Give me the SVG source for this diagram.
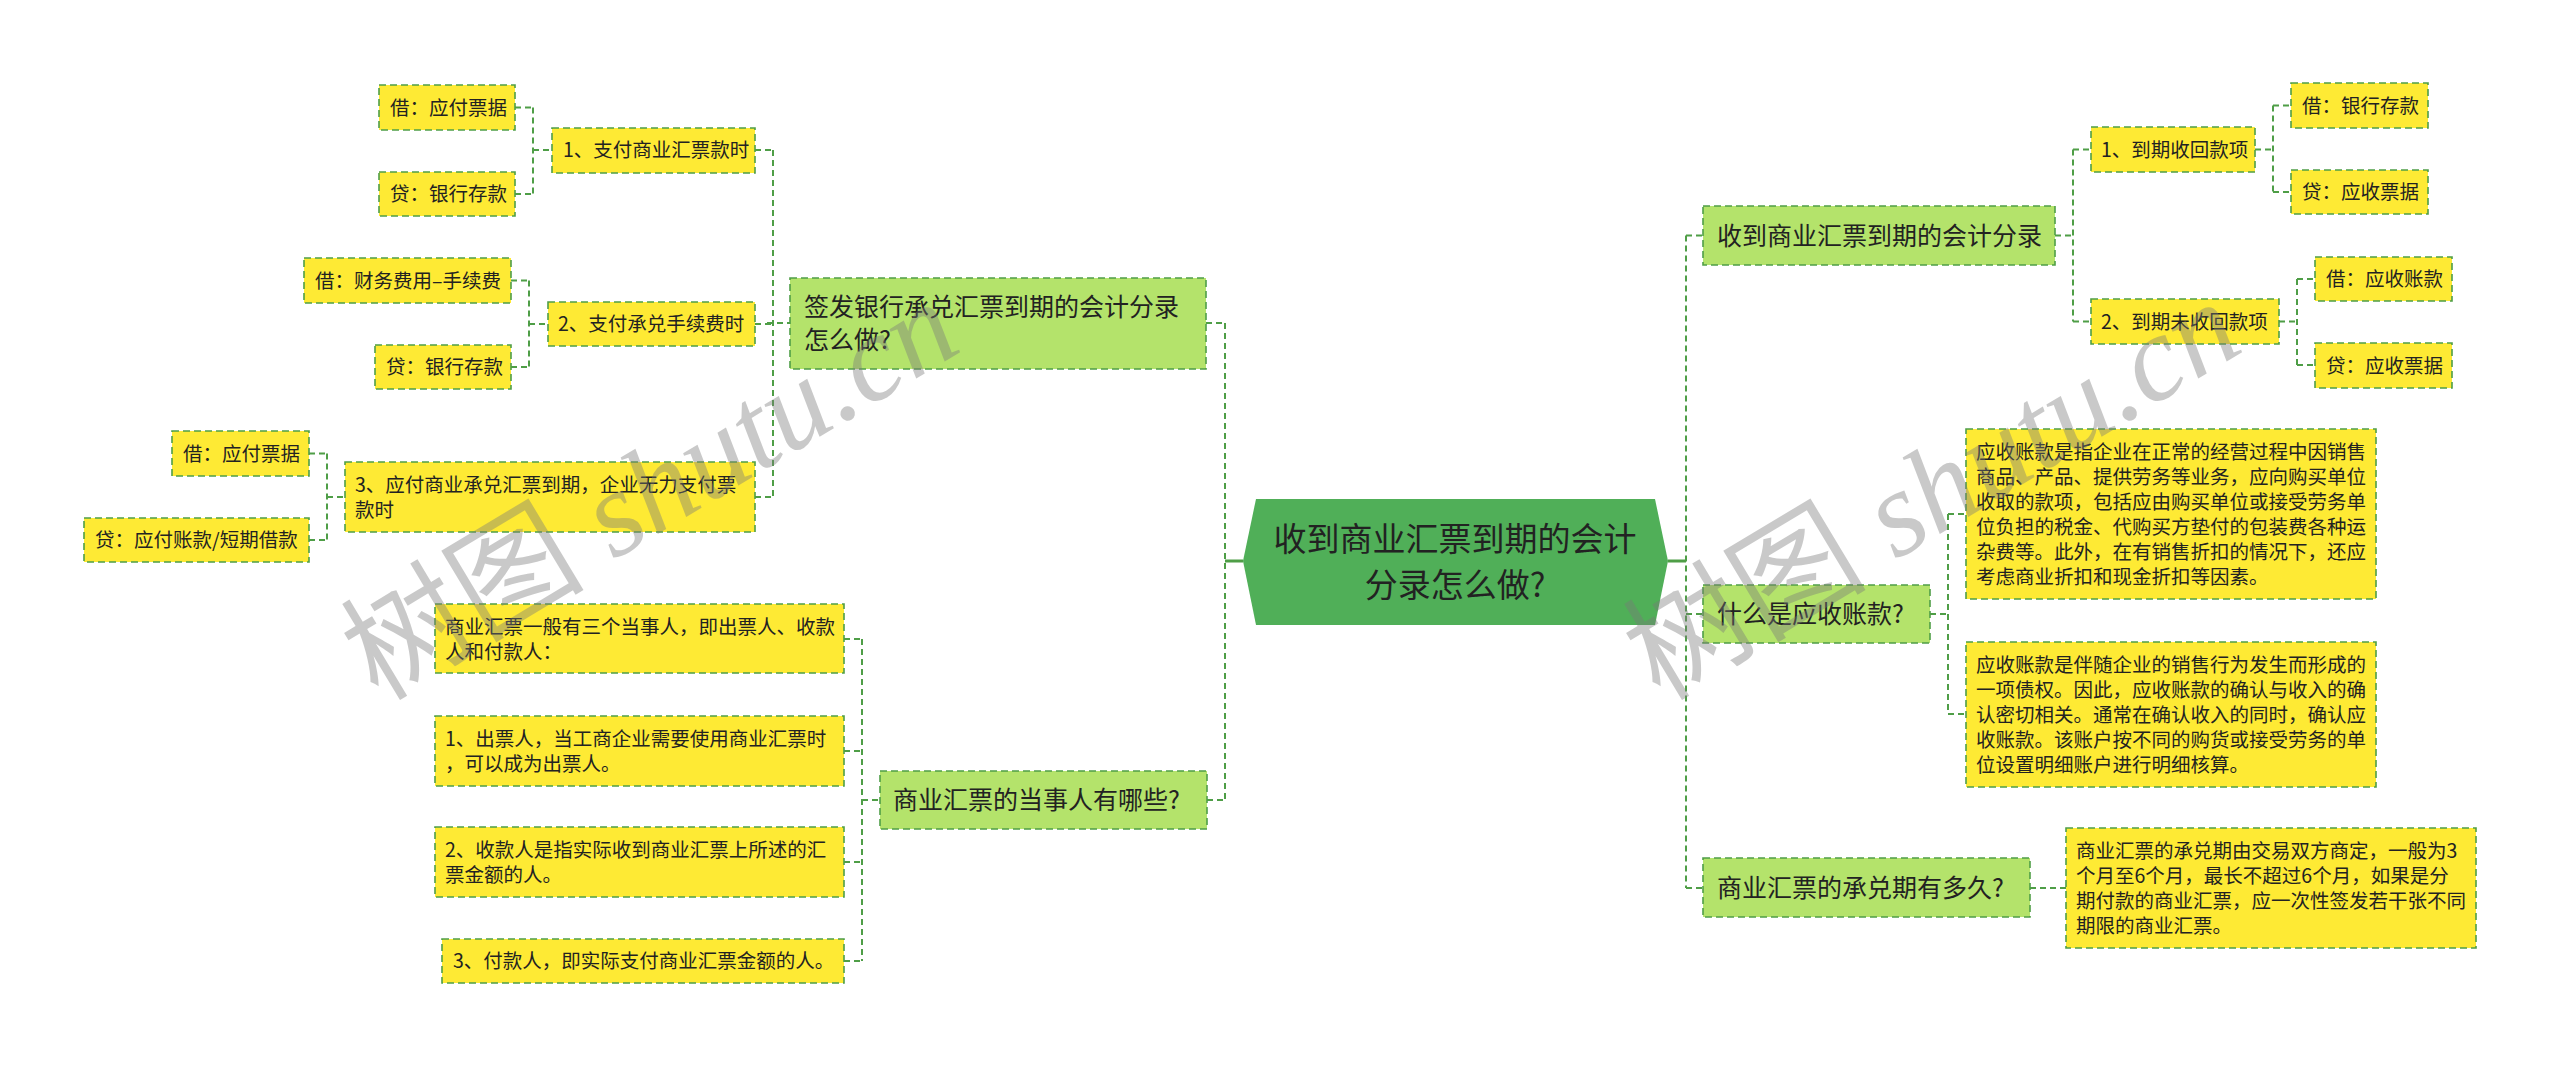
<svg xmlns="http://www.w3.org/2000/svg" width="2560" height="1067" viewBox="0 0 2560 1067">
<defs>
<style>
.bg{fill:#ffffff}
.leaf{fill:#feea34;stroke:#4f9e47;stroke-width:1.6;stroke-dasharray:7 4}
.sub{fill:#b4e36b;stroke:#4f9e47;stroke-width:1.6;stroke-dasharray:7 4}
.root{fill:#50af58}
.t{font-family:"Noto Sans CJK SC","Noto Sans",sans-serif;fill:#222}
.s19{font-size:19.5px}
.s25{font-size:25px}
.s33{font-size:33px}
.c{fill:none;stroke:#4f9e47;stroke-width:2;stroke-dasharray:6 4}
.cs{fill:none;stroke:#4f9e47;stroke-width:3}
.wm{fill:#7a7a7a;opacity:0.4;font-size:122px}
</style>
</defs>
<rect class="bg" x="0" y="0" width="2560" height="1067"/>

<g id="connectors">
  <path class="cs" d="M1225 561 H1243 M1668 561 H1686"/>
  <path class="c" d="M1225 323 V800 M1206 323 H1225 M1207 800 H1225"/>
  <path class="c" d="M773 150 V497 M755 150 H773 M755 324 H773 M755 497 H773 M767 323 H790"/>
  <path class="c" d="M533 107.5 V194 M515 107.5 H533 M515 194 H533 M533 150 H552"/>
  <path class="c" d="M529 280.5 V367 M511 280.5 H529 M511 367 H529 M529 324 H548"/>
  <path class="c" d="M327 453.5 V540 M309 453.5 H327 M309 540 H327 M327 497 H345"/>
  <path class="c" d="M862 639 V961 M844 639 H862 M844 751 H862 M844 862 H862 M844 961 H862 M862 800 H880"/>
  <path class="c" d="M1686 235.5 V888 M1686 235.5 H1703 M1686 614 H1703 M1686 888 H1703"/>
  <path class="c" d="M2073 149.5 V321.5 M2055 235.5 H2073 M2073 149.5 H2091 M2073 321.5 H2091"/>
  <path class="c" d="M2273 105.5 V192 M2255 149.5 H2273 M2273 105.5 H2291 M2273 192 H2291"/>
  <path class="c" d="M2297 279 V365 M2279 321.5 H2297 M2297 279 H2315 M2297 365 H2315"/>
  <path class="c" d="M1948 514 V714 M1930 614 H1948 M1948 514 H1966 M1948 714 H1966"/>
  <path class="c" d="M2030 888 H2066"/>
</g>

<g id="root">
  <polygon class="root" points="1243,561 1256,499 1655,499 1668,561 1655,625 1256,625"/>
  <text class="t s33" x="1455" y="551" text-anchor="middle">收到商业汇票到期的会计</text>
  <text class="t s33" x="1455" y="597" text-anchor="middle">分录怎么做?</text>
</g>

<g id="c1">
  <rect class="sub" x="790" y="278" width="416" height="91"/>
  <text class="t s25" x="804" y="316">签发银行承兑汇票到期的会计分录</text>
  <text class="t s25" x="804" y="349">怎么做?</text>
</g>
<g id="b1">
  <rect class="leaf" x="552" y="128" width="203" height="45"/>
  <text class="t s19" x="563" y="157">1、支付商业汇票款时</text>
</g>
<g id="a1">
  <rect class="leaf" x="379" y="85" width="136" height="45"/>
  <text class="t s19" x="390" y="114.5">借：应付票据</text>
</g>
<g id="a2">
  <rect class="leaf" x="379" y="172" width="136" height="44"/>
  <text class="t s19" x="390" y="201">贷：银行存款</text>
</g>
<g id="b2">
  <rect class="leaf" x="548" y="302" width="207" height="44"/>
  <text class="t s19" x="558" y="331">2、支付承兑手续费时</text>
</g>
<g id="a3">
  <rect class="leaf" x="304" y="258" width="207" height="45"/>
  <text class="t s19" x="315" y="287.5">借：财务费用–手续费</text>
</g>
<g id="a4">
  <rect class="leaf" x="375" y="345" width="136" height="44"/>
  <text class="t s19" x="386" y="374">贷：银行存款</text>
</g>
<g id="b3">
  <rect class="leaf" x="345" y="462" width="410" height="70"/>
  <text class="t s19" x="355" y="491.5">3、应付商业承兑汇票到期，企业无力支付票</text>
  <text class="t s19" x="355" y="516.5">款时</text>
</g>
<g id="a5">
  <rect class="leaf" x="172" y="431" width="137" height="45"/>
  <text class="t s19" x="183" y="460.5">借：应付票据</text>
</g>
<g id="a6">
  <rect class="leaf" x="84" y="518" width="225" height="44"/>
  <text class="t s19" x="95" y="547">贷：应付账款/短期借款</text>
</g>

<g id="c2">
  <rect class="sub" x="880" y="771" width="327" height="58"/>
  <text class="t s25" x="893" y="809">商业汇票的当事人有哪些?</text>
</g>
<g id="d1">
  <rect class="leaf" x="435" y="604" width="409" height="69"/>
  <text class="t s19" x="445" y="633.5">商业汇票一般有三个当事人，即出票人、收款</text>
  <text class="t s19" x="445" y="658.5">人和付款人：</text>
</g>
<g id="d2">
  <rect class="leaf" x="435" y="716" width="409" height="70"/>
  <text class="t s19" x="445" y="746">1、出票人，当工商企业需要使用商业汇票时</text>
  <text class="t s19" x="445" y="771">，可以成为出票人。</text>
</g>
<g id="d3">
  <rect class="leaf" x="435" y="827" width="409" height="70"/>
  <text class="t s19" x="445" y="857">2、收款人是指实际收到商业汇票上所述的汇</text>
  <text class="t s19" x="445" y="882">票金额的人。</text>
</g>
<g id="d4">
  <rect class="leaf" x="442" y="939" width="402" height="44"/>
  <text class="t s19" x="453" y="968">3、付款人，即实际支付商业汇票金额的人。</text>
</g>

<g id="r1">
  <rect class="sub" x="1703" y="206" width="352" height="59"/>
  <text class="t s25" x="1717" y="244.5">收到商业汇票到期的会计分录</text>
</g>
<g id="s1">
  <rect class="leaf" x="2091" y="127" width="164" height="45"/>
  <text class="t s19" x="2101" y="156.5">1、到期收回款项</text>
</g>
<g id="t1">
  <rect class="leaf" x="2291" y="83" width="137" height="45"/>
  <text class="t s19" x="2302" y="112.5">借：银行存款</text>
</g>
<g id="t2">
  <rect class="leaf" x="2291" y="170" width="137" height="44"/>
  <text class="t s19" x="2302" y="199">贷：应收票据</text>
</g>
<g id="s2">
  <rect class="leaf" x="2091" y="299" width="188" height="45"/>
  <text class="t s19" x="2101" y="328.5">2、到期未收回款项</text>
</g>
<g id="t3">
  <rect class="leaf" x="2315" y="257" width="137" height="44"/>
  <text class="t s19" x="2326" y="286">借：应收账款</text>
</g>
<g id="t4">
  <rect class="leaf" x="2315" y="343" width="137" height="45"/>
  <text class="t s19" x="2326" y="372.5">贷：应收票据</text>
</g>

<g id="r2">
  <rect class="sub" x="1703" y="585" width="227" height="58"/>
  <text class="t s25" x="1717" y="623">什么是应收账款?</text>
</g>
<g id="u1">
  <rect class="leaf" x="1966" y="429" width="410" height="170"/>
  <text class="t s19" x="1976" y="458.5">应收账款是指企业在正常的经营过程中因销售</text>
  <text class="t s19" x="1976" y="483.5">商品、产品、提供劳务等业务，应向购买单位</text>
  <text class="t s19" x="1976" y="508.5">收取的款项，包括应由购买单位或接受劳务单</text>
  <text class="t s19" x="1976" y="533.5">位负担的税金、代购买方垫付的包装费各种运</text>
  <text class="t s19" x="1976" y="558.5">杂费等。此外，在有销售折扣的情况下，还应</text>
  <text class="t s19" x="1976" y="583.5">考虑商业折扣和现金折扣等因素。</text>
</g>
<g id="u2">
  <rect class="leaf" x="1966" y="642" width="410" height="145"/>
  <text class="t s19" x="1976" y="671.5">应收账款是伴随企业的销售行为发生而形成的</text>
  <text class="t s19" x="1976" y="696.5">一项债权。因此，应收账款的确认与收入的确</text>
  <text class="t s19" x="1976" y="721.5">认密切相关。通常在确认收入的同时，确认应</text>
  <text class="t s19" x="1976" y="746.5">收账款。该账户按不同的购货或接受劳务的单</text>
  <text class="t s19" x="1976" y="771.5">位设置明细账户进行明细核算。</text>
</g>

<g id="r3">
  <rect class="sub" x="1703" y="858" width="327" height="59"/>
  <text class="t s25" x="1717" y="897">商业汇票的承兑期有多久?</text>
</g>
<g id="v1">
  <rect class="leaf" x="2066" y="828" width="410" height="120"/>
  <text class="t s19" x="2076" y="857.5">商业汇票的承兑期由交易双方商定，一般为3</text>
  <text class="t s19" x="2076" y="882.5">个月至6个月，最长不超过6个月，如果是分</text>
  <text class="t s19" x="2076" y="907.5">期付款的商业汇票，应一次性签发若干张不同</text>
  <text class="t s19" x="2076" y="932.5">期限的商业汇票。</text>
</g>

<g id="watermarks">
  <text class="wm" x="378" y="702" transform="rotate(-31 378 702)"><tspan font-family="Noto Sans CJK SC, sans-serif">树图</tspan><tspan font-family="Liberation Serif, serif" font-style="italic"> shutu.cn</tspan></text>
  <text class="wm" x="1660" y="702" transform="rotate(-31 1660 702)"><tspan font-family="Noto Sans CJK SC, sans-serif">树图</tspan><tspan font-family="Liberation Serif, serif" font-style="italic"> shutu.cn</tspan></text>
</g>
</svg>
